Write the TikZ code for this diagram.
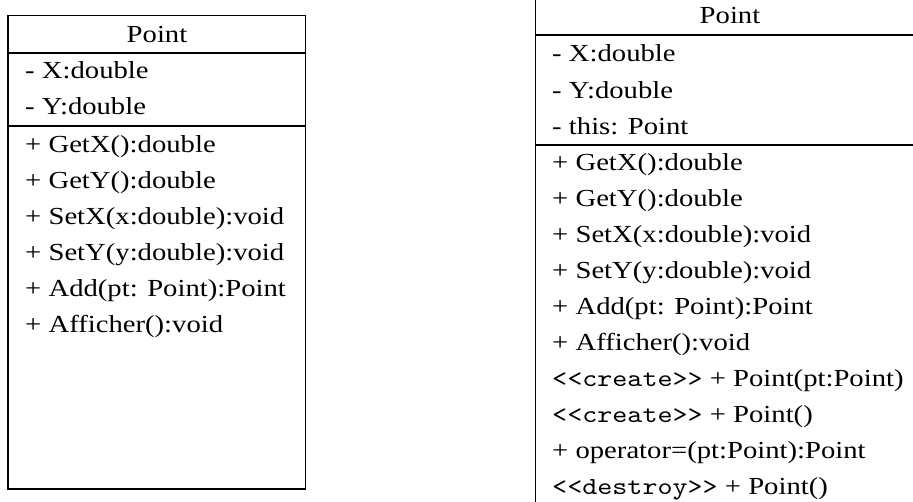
\documentclass[tikz,border=0pt]{standalone}
\usepackage{fontspec}
\setmainfont{Liberation Serif}
\newfontfamily\stereofont{lmmono10-regular.otf}
\newcommand\umlstereo[1]{{\stereofont\textless\textless #1\textgreater\textgreater}}
\tikzset{
  umlbox/.style={draw=black, line width=1.2pt},
  umlsep/.style={draw=black, line width=1.2pt},
  member/.style={anchor=base west, inner sep=0pt, xscale=1.17,
    font=\fontsize{24.5}{29}\selectfont},
  classname/.style={anchor=base, inner sep=0pt, xscale=1.17,
    font=\fontsize{24.5}{29}\selectfont},
}
\begin{document}
\begin{tikzpicture}[x=1pt, y=-1pt]
  \useasboundingbox (0,0) rectangle (913,501);
  \clip (0,0) rectangle (913,501);

  % first version of the class
  \draw[umlbox] (8,15.5) rectangle (305.7,489);
  \draw[umlsep] (8,53) -- (305.7,53);
  \draw[umlsep] (8,126) -- (305.7,126);
  \node[classname] (a0) at (157,42.3) {Point};
  \node[member] (a1) at (25,78)    {- X:double};
  \node[member] (a2) at (25,114.5) {- Y:double};
  \node[member] (a3) at (25,152.5) {+ GetX():double};
  \node[member] (a4) at (25,188.5) {+ GetY():double};
  \node[member] (a5) at (25,224.5) {+ SetX(x:double):void};
  \node[member] (a6) at (25,260.5) {+ SetY(y:double):void};
  \node[member] (a7) at (25,296.5) {+ Add(pt: Point):Point};
  \node[member] (a8) at (25,332.5) {+ Afficher():void};

  % second version of the class, with constructors and destructor
  \draw[umlbox] (535.7,-3) rectangle (924.3,510);
  \draw[umlsep] (535.7,35) -- (924.3,35);
  \draw[umlsep] (535.7,145) -- (924.3,145);
  \node[classname] (b0) at (730,23) {Point};
  \node[member] (b1)  at (552,61.7) {- X:double};
  \node[member] (b2)  at (552,98)   {- Y:double};
  \node[member] (b3)  at (552,134)  {- this: Point};
  \node[member] (b4)  at (552,170)  {+ GetX():double};
  \node[member] (b5)  at (552,206)  {+ GetY():double};
  \node[member] (b6)  at (552,242)  {+ SetX(x:double):void};
  \node[member] (b7)  at (552,278)  {+ SetY(y:double):void};
  \node[member] (b8)  at (552,314)  {+ Add(pt: Point):Point};
  \node[member] (b9)  at (552,350)  {+ Afficher():void};
  \node[member] (b10) at (552,386)  {\umlstereo{create} + Point(pt:Point)};
  \node[member] (b11) at (552,422)  {\umlstereo{create} + Point()};
  \node[member] (b12) at (552,458)  {+ operator=(pt:Point):Point};
  \node[member] (b13) at (552,494)  {\umlstereo{destroy} + Point()};
\end{tikzpicture}
\end{document}
